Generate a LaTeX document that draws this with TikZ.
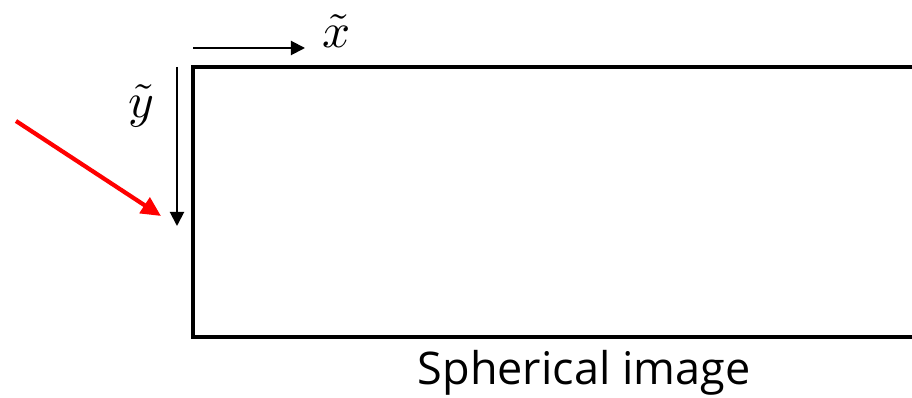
\documentclass[tikz,border=0pt]{standalone}
\usepackage{fontspec}
\newfontfamily\labelfont{Open Sans}
\usetikzlibrary{arrows.meta}
\begin{document}
\begin{tikzpicture}[x=0.025cm,y=-0.025cm,
  axis/.style={line width=1.4pt,-{Triangle[length=10pt,width=10pt]}},
  pointer/.style={red,line width=3pt,-{Triangle[length=14pt,width=13pt]}},
  mathlab/.style={scale=3.5,inner sep=0pt}]
  \useasboundingbox (0,0) rectangle (912,398);
  \clip (0,0) rectangle (912,398);
  \coordinate (TL) at (193,67);
  \coordinate (BR) at (940,337);
  \coordinate (Xs) at (193,48);
  \coordinate (Xe) at (305,48);
  \coordinate (Ys) at (177,67);
  \coordinate (Ye) at (177,226);
  \coordinate (Ps) at (16,121);
  \coordinate (Pe) at (161,216);
  \draw[line width=2.8pt] (TL) rectangle (BR);
  \draw[axis] (Xs)--(Xe);
  \draw[axis] (Ys)--(Ye);
  \draw[pointer] (Ps)--(Pe);
  \node[mathlab] (xlab) at (337,31) {$\tilde{x}$};
  \node[mathlab] (ylab) at (141,106) {$\tilde{y}$};
  \node (cap) at (584,373) {\labelfont\fontsize{32}{36}\selectfont Spherical image};
\end{tikzpicture}
\end{document}
